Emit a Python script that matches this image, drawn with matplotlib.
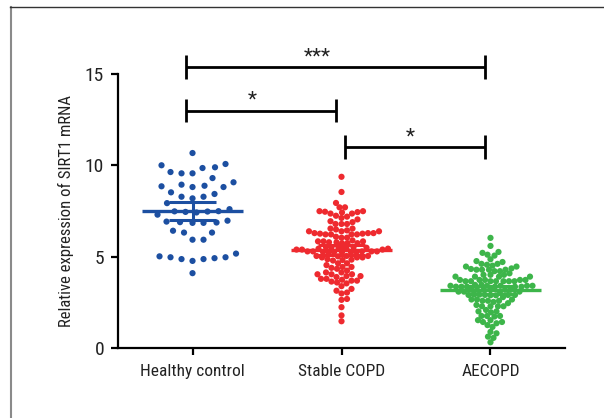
import numpy as np
import matplotlib
matplotlib.use("Agg")
import matplotlib.pyplot as plt
from matplotlib.lines import Line2D

plt.rcParams["font.family"] = ["Roboto Condensed", "DejaVu Sans"]
plt.rcParams["font.stretch"] = "condensed"

groups = ["Healthy control", "Stable COPD", "AECOPD"]
colors = ["#1c4fa1", "#ee2a2f", "#3db54a"]

healthy = [
    10.68,
    9.86, 10.01, 9.90, 10.08,
    9.57, 9.57, 9.31, 9.64,
    8.82, 8.82, 9.08, 8.95, 8.86, 8.89,
    8.53, 8.29, 8.20, 8.29, 8.44,
    7.94, 7.61,
    7.50, 7.48, 7.46, 7.49, 7.43, 7.31,
    6.93, 6.88, 6.86, 6.90, 6.86, 6.98,
    6.33, 6.43, 6.33, 5.94, 5.94,
    4.93, 4.88, 4.88, 5.18, 4.98, 5.03, 4.78, 4.98,
    4.11,
]
stable = [
    9.38, 8.55, 7.95, 7.71, 7.71,
    7.45, 7.37, 7.43, 7.50, 7.50, 7.47, 7.37,
    7.20, 7.13, 7.25, 7.05,
    6.90, 6.80, 6.80, 6.80, 6.95,
    6.55, 6.40, 6.40, 6.55, 6.40, 6.45, 6.50,
    6.27, 6.23, 6.23, 6.27, 6.30, 6.23, 6.30, 6.30, 6.23, 6.10, 6.05, 6.05,
    5.85, 5.85, 5.75, 5.80, 5.75, 5.80, 5.85, 5.75, 5.90,
    5.40, 5.45, 5.50, 5.50, 5.45, 5.53, 5.53, 5.45, 5.53, 5.40, 5.40,
    5.25, 5.25, 5.25, 5.30, 5.25, 5.30, 5.27, 5.30, 5.30, 5.30, 5.27,
    5.05, 4.97, 4.97, 5.03, 4.97, 5.05, 5.05, 4.85, 4.80, 4.83, 4.87,
    4.65, 4.55, 4.45, 4.45, 4.65, 4.40, 4.35, 4.25,
    4.15, 4.05, 4.15, 4.05, 3.95, 3.95, 4.05,
    3.80, 3.80, 3.75, 3.70, 3.70, 3.90, 3.60,
    3.55, 3.40, 3.65,
    3.25, 3.15, 3.05, 3.00,
    2.70, 2.65, 2.25, 1.80, 1.48,
]
aecopd = [
    6.04, 5.60,
    5.27, 5.22, 5.12, 5.07,
    4.87, 4.77, 4.62, 4.72,
    4.62, 4.57, 4.52, 4.47, 4.47,
    4.30, 4.30, 4.30, 4.37, 4.22, 4.30, 4.22, 4.34,
    4.10, 4.02, 4.02, 4.02, 3.92, 3.92, 3.92, 3.92,
    3.74, 3.67, 3.74, 3.67, 3.74, 3.74, 3.67, 3.74, 3.67, 3.67, 3.67, 3.67,
    3.37, 3.37, 3.42, 3.37, 3.37, 3.42, 3.47, 3.37, 3.37, 3.42, 3.42, 3.42, 3.47,
    3.20, 3.20, 3.20, 3.10, 3.10, 3.20, 3.20, 3.20, 3.10, 3.10,
    2.92, 2.92, 2.90, 2.92, 2.94, 2.92, 2.90, 2.94,
    2.54, 2.60, 2.67, 2.60, 2.60, 2.67, 2.67, 2.80,
    2.30, 2.30, 2.37, 2.30, 2.30, 2.47,
    2.02, 1.97, 2.02, 2.10,
    1.77, 1.74, 1.77, 1.77, 1.54,
    1.54, 1.44, 1.37, 1.44,
    1.27, 1.17, 0.90, 0.82, 0.64, 0.57, 0.33,
]
data = [healthy, stable, aecopd]

# significance brackets: (left group, right group, label)
comparisons = [(0, 2, "***"), (0, 1, "*"), (1, 2, "*")]
bracket_heights = [15.36, 13.0, 11.0]


def swarm(vals, gap, xscale, yscale):
    """Beeswarm x offsets (data units) so dots don't overlap."""
    vals = np.asarray(vals)
    order = np.argsort(vals)
    steps = np.arange(0, 80, 0.5)
    cands = np.ravel(np.column_stack([steps, -steps]))[1:]
    placed = []
    offs = np.zeros(len(vals))
    for i in order:
        y = vals[i] * yscale
        for c in cands:
            if all((c - px) ** 2 + (y - py) ** 2 >= gap ** 2 for px, py in placed):
                break
        placed.append((c, y))
        offs[i] = c / xscale
    return offs


fig = plt.figure(figsize=(6.04, 4.18), dpi=100)
ax = fig.add_axes([0.1954, 0.1667, 0.740, 0.6562])
ax.set_xlim(-0.5, 2.5)
ax.set_ylim(0, 15)

xscale = 0.740 * 604 / 3.0
yscale = 0.6562 * 418 / 15.0
gaps = [11.0, 5.5, 5.3]

for i, (vals, col) in enumerate(zip(data, colors)):
    vals = np.asarray(vals)
    xo = swarm(vals, gaps[i], xscale, yscale)
    ax.scatter(i + xo, vals, s=20, color=col, edgecolors="none", zorder=3, clip_on=False)
    m = vals.mean()
    ci = 1.98 * vals.std(ddof=1) / np.sqrt(len(vals))
    ax.plot([i - 0.34, i + 0.34], [m, m], color=col, lw=2.4, zorder=4, solid_capstyle="butt")
    ax.plot([i, i], [m - ci, m + ci], color=col, lw=2.2, zorder=4)
    for yy in (m - ci, m + ci):
        ax.plot([i - 0.16, i + 0.16], [yy, yy], color=col, lw=2.2, zorder=4, solid_capstyle="butt")

for (a, b, lab), h, sx in zip(comparisons, bracket_heights, [0.835, 0.40, 1.46]):
    xa = a + (0.024 if a == 1 else -0.047)
    xb = b - (0.037 if b == 1 else 0.034)
    kw = dict(color="black", lw=2.0, clip_on=False, solid_capstyle="butt")
    ax.plot([xa, xb], [h, h], **kw)
    ax.plot([xa, xa], [h - 0.64, h + 0.66], **kw)
    ax.plot([xb, xb], [h - 0.64, h + 0.66], **kw)
    ax.text(sx, h + 0.25, lab, ha="center", va="baseline", fontsize=15, color="#222222")

for s in ["top", "right"]:
    ax.spines[s].set_visible(False)
for s in ["left", "bottom"]:
    ax.spines[s].set_linewidth(1.6)

ax.set_yticks([0, 5, 10, 15])
ax.set_xticks([0, 1, 2])
ax.set_xticklabels(groups)
ax.tick_params(axis="both", width=1.6, length=5, colors="black", labelcolor="#222222")
ax.tick_params(axis="y", labelsize=14, pad=5)
ax.tick_params(axis="x", labelsize=12.5, pad=6)
ax.set_ylabel("Relative expression of SIRT1 mRNA", fontsize=12, color="#222222", labelpad=8)

# outer frame lines of the original figure panel
fig.add_artist(Line2D([11 / 604, 11 / 604], [0, 1 - 7 / 418], transform=fig.transFigure,
                      color="#8a8a8a", lw=1.5))
fig.add_artist(Line2D([10 / 604, 1], [1 - 7 / 418, 1 - 7 / 418], transform=fig.transFigure,
                      color="#333333", lw=1.0))

fig.savefig("out.png", dpi=100)
plt.close(fig)
